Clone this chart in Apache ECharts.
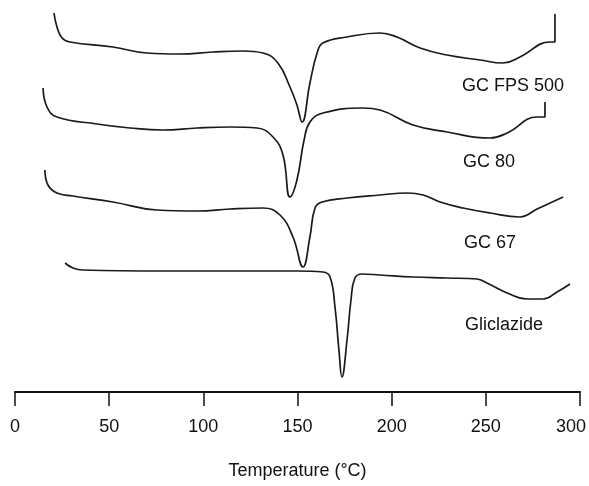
<!DOCTYPE html>
<html>
<head>
<meta charset="utf-8">
<title>DSC thermograms</title>
<script src="https://cdn.jsdelivr.net/npm/echarts@6/dist/echarts.min.js"></script>
<style>
  html, body { margin: 0; padding: 0; background: #fff; }
  #chart { width: 589px; height: 486px; }
</style>
</head>
<body>
<div id="chart"></div>
<script>
// temperature (°C) and heat flow (a.u., curves offset for stacking)
const fpsTemp = [20.7, 22.3, 25.0, 29.2, 52.0, 70.1, 87.6, 105.1, 121.1, 131.7, 139.6, 146.0, 149.7, 152.4, 156.6, 160.4, 163.5, 176.3, 193.8, 202.8, 215.1, 229.4, 246.9, 259.1, 268.1, 284.1, 286.7, 286.7];
const fpsFlow = [379, 365, 354, 350, 345, 339, 338, 340, 341, 339, 329, 305, 287, 270, 309, 339, 349, 355, 359, 355, 344, 337, 332, 329, 335, 350, 350, 378];

const gc80Temp = [14.9, 17.0, 22.3, 43.5, 61.1, 78.6, 96.6, 114.2, 128.5, 137.0, 142.3, 146.0, 149.7, 153.5, 156.6, 163.5, 184.8, 193.8, 211.3, 229.4, 252.2, 261.3, 277.2, 281.4, 281.4];
const gc80Flow = [304, 285, 275, 268, 264, 262, 264, 265, 264, 255, 237, 195, 212, 252, 270, 279, 284, 282, 267, 260, 254, 259, 275, 275, 290];

const gc67Temp = [15.9, 17.5, 22.3, 30.8, 52.0, 75.4, 96.6, 114.2, 131.7, 140.7, 147.6, 152.9, 156.6, 159.3, 163.0, 176.3, 193.8, 208.2, 216.7, 225.7, 237.9, 252.2, 268.1, 277.2, 291.0];
const gc67Flow = [222, 207, 199, 196, 190, 182, 181, 183, 184, 177, 155, 125, 155, 184, 190, 194, 197, 199, 197, 190, 184, 179, 175, 183, 195];

const gliTemp = [26.6, 30.8, 36.1, 78.6, 114.2, 149.7, 163.5, 167.3, 169.9, 172.0, 173.6, 176.3, 178.4, 180.5, 184.3, 193.8, 211.3, 229.4, 245.3, 250.6, 261.3, 271.9, 280.4, 287.8, 294.7];
const gliFlow = [129, 124, 122, 121, 121, 121, 120, 115, 85, 42, 15, 52, 92, 114, 118, 117, 115, 114, 113, 109, 99, 93, 93, 100, 108];

const sampleNames = ["GC FPS 500", "GC 80", "GC 67", "Gliclazide"];
const xTicks = [0, 50, 100, 150, 200, 250, 300];

function pairs(xs, ys) {
  return xs.map((x, i) => [x, ys[i]]);
}

const chart = echarts.init(document.getElementById("chart"));

const lineStyle = { color: "#1a1a1a", width: 1.7 };
const curves = [
  pairs(fpsTemp, fpsFlow),
  pairs(gc80Temp, gc80Flow),
  pairs(gc67Temp, gc67Flow),
  pairs(gliTemp, gliFlow)
];
const labelPos = [[462, 77], [463, 153], [464, 234], [465, 316]];

const option = {
  animation: false,
  backgroundColor: "#fff",
  textStyle: { fontFamily: "Liberation Sans, Arial, sans-serif" },
  grid: { left: 15, right: 9, top: 0, bottom: 94, outerBoundsMode: "none", containLabel: false },
  xAxis: {
    type: "value",
    min: 0,
    max: 300,
    interval: 50,
    name: "Temperature (°C)",
    nameLocation: "middle",
    nameGap: 70,
    nameTextStyle: { fontSize: 18, color: "#111" },
    axisLine: { lineStyle: { color: "#111", width: 2.2 } },
    axisTick: { length: 14, lineStyle: { color: "#111", width: 1.5 } },
    axisLabel: {
      margin: 26,
      fontSize: 18,
      color: "#111",
      hideOverlap: false,
      formatter: v => {
        if (xTicks.indexOf(v) < 0) return "";
        // last label sits a little left of its tick, as in the figure
        return v === 300 ? "{last|" + v + "}" : String(v);
      },
      rich: {
        last: { fontSize: 18, color: "#111", padding: [0, 18, 0, 0] }
      }
    },
    splitLine: { show: false }
  },
  yAxis: {
    type: "value",
    min: 0,
    max: 392,
    show: false
  },
  series: curves.map((d, i) => ({
    name: sampleNames[i],
    type: "line",
    data: d,
    showSymbol: false,
    smooth: 0.45,
    lineStyle: lineStyle
  })),
  graphic: sampleNames.map((n, i) => ({
    type: "text",
    left: labelPos[i][0],
    top: labelPos[i][1],
    style: {
      text: n,
      fontSize: 18,
      fill: "#111",
      fontFamily: "Liberation Sans, Arial, sans-serif"
    }
  }))
};

chart.setOption(option);
</script>
</body>
</html>
